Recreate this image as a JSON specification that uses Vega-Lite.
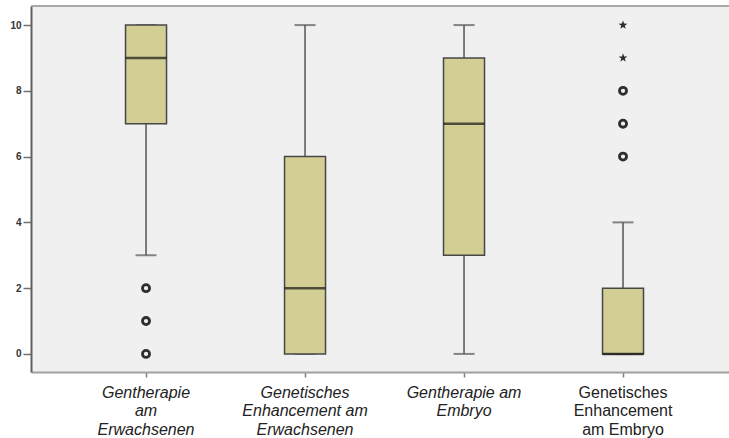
{
  "$schema": "https://vega.github.io/schema/vega-lite/v6.json",
  "autosize": "none",
  "width": 698,
  "height": 366,
  "padding": {"left": 31, "top": 6, "right": 0, "bottom": 66},
  "background": "white",
  "config": {
    "view": {"fill": "#f0f0f0", "stroke": null},
    "font": "Liberation Sans"
  },
  "datasets": {
    "boxes": [
      {"cat": "Gentherapie|am|Erwachsenen", "lower": 3, "q1": 7, "median": 9, "q3": 10, "upper": 10},
      {"cat": "Genetisches|Enhancement am|Erwachsenen", "lower": 0, "q1": 0, "median": 2, "q3": 6, "upper": 10},
      {"cat": "Gentherapie am|Embryo", "lower": 0, "q1": 3, "median": 7, "q3": 9, "upper": 10},
      {"cat": "Genetisches|Enhancement|am Embryo", "lower": 0, "q1": 0, "median": 0, "q3": 2, "upper": 4}
    ],
    "outliers": [
      {"cat": "Gentherapie|am|Erwachsenen", "value": 2, "kind": "o"},
      {"cat": "Gentherapie|am|Erwachsenen", "value": 1, "kind": "o"},
      {"cat": "Gentherapie|am|Erwachsenen", "value": 0, "kind": "o"},
      {"cat": "Genetisches|Enhancement|am Embryo", "value": 6, "kind": "o"},
      {"cat": "Genetisches|Enhancement|am Embryo", "value": 7, "kind": "o"},
      {"cat": "Genetisches|Enhancement|am Embryo", "value": 8, "kind": "o"},
      {"cat": "Genetisches|Enhancement|am Embryo", "value": 9, "kind": "e"},
      {"cat": "Genetisches|Enhancement|am Embryo", "value": 10, "kind": "e"}
    ]
  },
  "encoding": {
    "x": {
      "field": "cat",
      "type": "nominal",
      "sort": null,
      "scale": {
        "domain": ["Gentherapie|am|Erwachsenen", "Genetisches|Enhancement am|Erwachsenen", "Gentherapie am|Embryo", "Genetisches|Enhancement|am Embryo"],
        "paddingInner": 0,
        "paddingOuter": 0.195,
        "align": 0.573
      },
      "axis": {
        "title": null,
        "labelAngle": 0,
        "labelExpr": "split(datum.label, '|')",
        "labelFont": "Liberation Sans",
        "labelFontSize": 16,
        "labelLineHeight": 18.5,
        "labelColor": "#222",
        "labelFontStyle": {"condition": {"test": "datum.value == 'Genetisches|Enhancement|am Embryo'", "value": "normal"}, "value": "italic"},
        "labelPadding": 7,
        "labelBaseline": "top",
        "domainColor": "#a0a0a0",
        "domainWidth": 2,
        "tickColor": "#808080",
        "tickSize": 5,
        "tickWidth": 1.5
      }
    }
  },
  "layer": [
    {
      "data": {"values": [{"top": 10.58}]},
      "mark": {"type": "rule", "color": "#a8a8a8", "strokeWidth": 2},
      "encoding": {"y": {"field": "top", "type": "quantitative"}, "x": null}
    },
    {
      "data": {"name": "boxes"},
      "mark": {"type": "rule", "color": "#555555", "strokeWidth": 1.5},
      "encoding": {
        "y": {
          "field": "lower",
          "type": "quantitative",
          "scale": {"domain": [-0.55, 10.58], "nice": false, "zero": false},
          "axis": {
            "title": null,
            "values": [0, 2, 4, 6, 8, 10],
            "grid": false,
            "labelFont": "Liberation Sans",
            "labelFontSize": 10,
            "labelFontWeight": "bold",
            "labelColor": "#333",
            "labelPadding": 2,
            "domainColor": "#606060",
            "domainWidth": 2,
            "tickColor": "#707070",
            "tickSize": 8,
            "tickWidth": 1.5
          }
        },
        "y2": {"field": "upper"}
      }
    },
    {
      "data": {"name": "boxes"},
      "mark": {"type": "tick", "color": "#555555", "thickness": 2, "size": 21},
      "encoding": {"y": {"field": "lower", "type": "quantitative"}}
    },
    {
      "data": {"name": "boxes"},
      "mark": {"type": "tick", "color": "#555555", "thickness": 2, "size": 21},
      "encoding": {"y": {"field": "upper", "type": "quantitative"}}
    },
    {
      "data": {"name": "boxes"},
      "mark": {"type": "bar", "size": 41, "fill": "#d3ce93", "stroke": "#474747", "strokeWidth": 1.5},
      "encoding": {
        "y": {"field": "q1", "type": "quantitative"},
        "y2": {"field": "q3"}
      }
    },
    {
      "data": {"name": "boxes"},
      "mark": {"type": "tick", "color": "#151515", "thickness": 2.5, "size": 41},
      "encoding": {"y": {"field": "median", "type": "quantitative"}}
    },
    {
      "data": {"name": "outliers"},
      "transform": [{"filter": "datum.kind == 'o'"}],
      "mark": {"type": "point", "shape": "circle", "filled": false, "stroke": "#2e2e2e", "strokeWidth": 2.8, "size": 50, "opacity": 1},
      "encoding": {"y": {"field": "value", "type": "quantitative"}}
    },
    {
      "data": {"name": "outliers"},
      "transform": [{"filter": "datum.kind == 'e'"}],
      "mark": {"type": "point", "shape": "M0,-1L0.235,-0.324L0.951,-0.309L0.38,0.124L0.588,0.809L0,0.4L-0.588,0.809L-0.38,0.124L-0.951,-0.309L-0.235,-0.324Z", "filled": true, "fill": "#2e2e2e", "strokeWidth": 0, "size": 85, "opacity": 1},
      "encoding": {"y": {"field": "value", "type": "quantitative"}}
    }
  ]
}
